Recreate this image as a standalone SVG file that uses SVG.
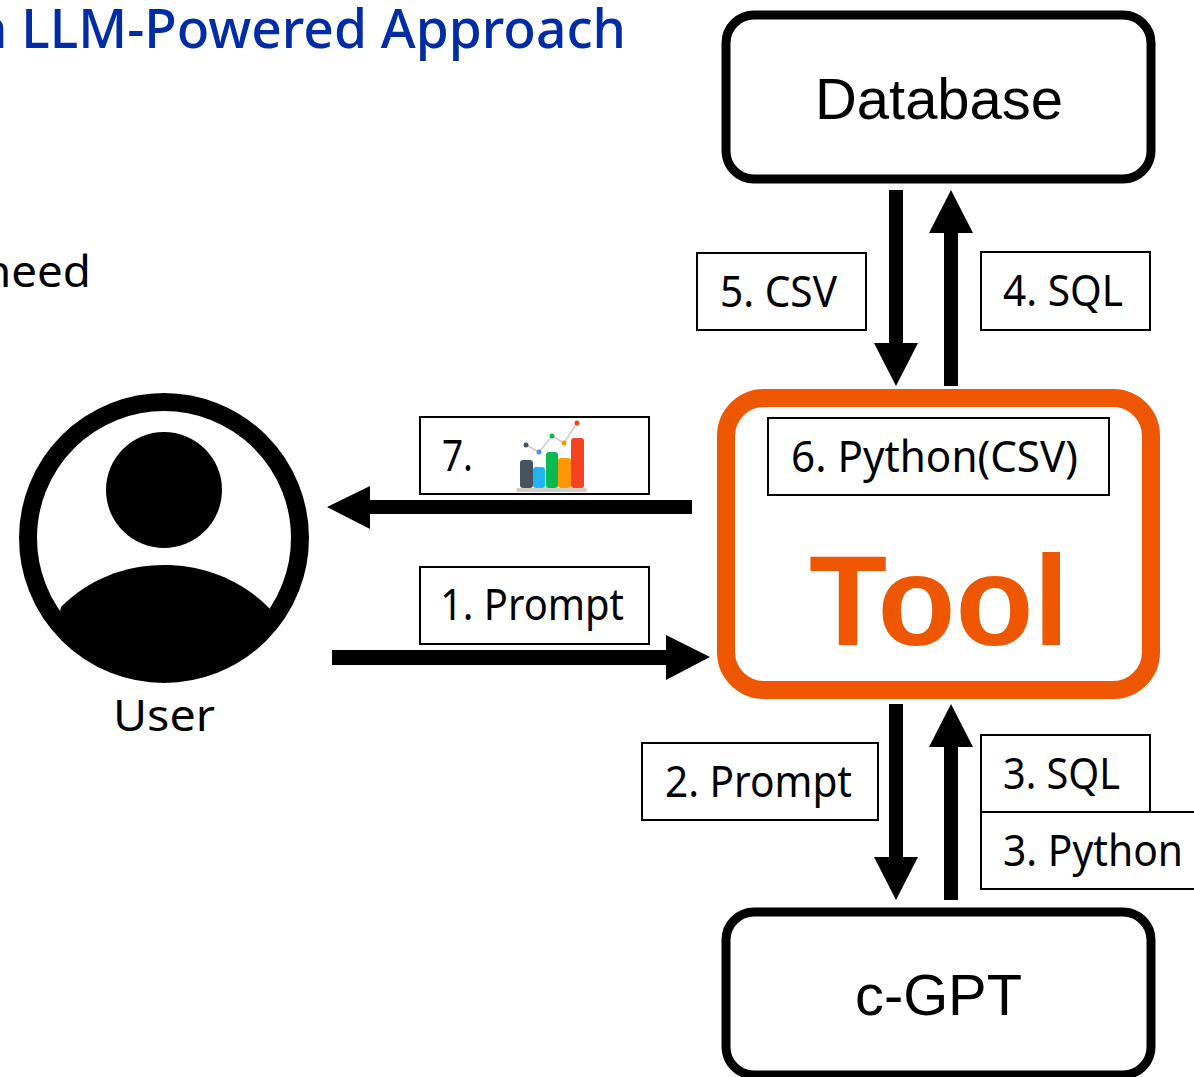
<svg xmlns="http://www.w3.org/2000/svg" width="1194" height="1077" viewBox="0 0 1194 1077">
<style>
.box{fill:#fff;stroke:#000;stroke-width:9}
.lb{fill:#fff;stroke:#000;stroke-width:2}
.t{font-family:"Noto Sans","Open Sans",sans-serif;font-size:43px;fill:#000}
.h{font-family:"Liberation Sans",Arial,sans-serif;fill:#000}
</style>
<defs><clipPath id="ringClip"><circle cx="164" cy="538" r="130"/></clipPath></defs>
<rect width="1194" height="1077" fill="#fff"/>
<text x="-26" y="48" font-family="Noto Sans,sans-serif" font-size="55" font-weight="500" fill="#002da6" textLength="652" lengthAdjust="spacingAndGlyphs">n LLM-Powered Approach</text>
<text x="-17" y="287" class="t" font-size="46" textLength="108" lengthAdjust="spacingAndGlyphs">need</text>
<g id="connectors" fill="#000">
<polygon points="889,190 903,190 903,343 918,343 896,386 874,343 889,343"/>
<polygon points="944,386 958,386 958,233 973,233 951,190 929,233 944,233"/>
<polygon points="692,500 692,514 370,514 370,529 327,507 370,486 370,500"/>
<polygon points="332,650 332,665 666,665 666,680 710,657 666,635 666,650"/>
<polygon points="889,704 903,704 903,857 918,857 896,900 874,857 889,857"/>
<polygon points="944,900 958,900 958,747 973,747 951,704 929,747 944,747"/>
</g>
<g id="database"><rect class="box" x="726" y="15" width="425" height="164" rx="28"/><text class="h" x="815" y="119" font-size="57" textLength="248" lengthAdjust="spacingAndGlyphs">Database</text></g>
<g id="cgpt"><rect class="box" x="726" y="912" width="425" height="163" rx="28"/><text class="h" x="855" y="1015" font-size="57" textLength="167" lengthAdjust="spacingAndGlyphs">c-GPT</text></g>
<g id="tool"><rect x="726" y="398" width="425" height="292" rx="38" fill="#fff" stroke="#ef5600" stroke-width="18"/><text x="809" y="645" font-family="Liberation Sans,sans-serif" font-weight="700" font-size="128" fill="#ef5600" textLength="260" lengthAdjust="spacingAndGlyphs">Tool</text></g>
<g id="user">
<circle cx="164" cy="538" r="136" fill="#fff" stroke="#000" stroke-width="18"/>
<circle cx="164" cy="490" r="58" fill="#000"/>
<path d="M61 607C88 580 124 565 164 565C204 565 242 580 270 609L290 700H40Z" fill="#000" clip-path="url(#ringClip)"/>
<text x="113" y="731" class="t" textLength="102" lengthAdjust="spacingAndGlyphs">User</text>
</g>
<g id="label5"><rect class="lb" x="697" y="253" width="169" height="77"/><text class="t" x="720" y="307" textLength="117" lengthAdjust="spacingAndGlyphs">5. CSV</text></g>
<g id="label4"><rect class="lb" x="981" y="252" width="169" height="78"/><text class="t" x="1003" y="306" textLength="120" lengthAdjust="spacingAndGlyphs">4. SQL</text></g>
<g id="label6"><rect class="lb" x="768" y="418" width="341" height="77"/><text class="t" x="791" y="472" textLength="287" lengthAdjust="spacingAndGlyphs">6. Python(CSV)</text></g>
<g id="label7"><rect class="lb" x="420" y="417" width="229" height="77"/><text class="t" x="442" y="471" textLength="31" lengthAdjust="spacingAndGlyphs">7.</text>
<g id="chart-icon">
<rect x="516" y="488" width="71" height="4" rx="2" fill="#d3cdc6"/>
<rect x="520" y="460" width="13" height="28" rx="3" fill="#47535e"/>
<rect x="533" y="467" width="12" height="21" rx="3" fill="#1fb5f5"/>
<rect x="546" y="452" width="12" height="36" rx="3" fill="#0cb850"/>
<rect x="558" y="458" width="13" height="30" rx="3" fill="#ff9800"/>
<rect x="571" y="438" width="13" height="50" rx="3" fill="#f4431f"/>
<path d="M526 445L539 452L552 436L564 443L577 423" fill="none" stroke="#d3cdc6" stroke-width="1.5"/>
<circle cx="526" cy="445" r="2.5" fill="#47535e"/><circle cx="539" cy="452" r="2.5" fill="#4a8ff0"/><circle cx="552" cy="436" r="2.5" fill="#0cb850"/><circle cx="564" cy="443" r="2.5" fill="#ff9800"/><circle cx="577" cy="423" r="2.5" fill="#f4431f"/>
</g></g>
<g id="label1"><rect class="lb" x="420" y="567" width="229" height="77"/><text class="t" x="440" y="620" textLength="184" lengthAdjust="spacingAndGlyphs">1. Prompt</text></g>
<g id="label2"><rect class="lb" x="642" y="743" width="236" height="77"/><text class="t" x="665" y="797" textLength="187" lengthAdjust="spacingAndGlyphs">2. Prompt</text></g>
<g id="label3a"><rect class="lb" x="981" y="735" width="169" height="77"/><text class="t" x="1003" y="789" textLength="117" lengthAdjust="spacingAndGlyphs">3. SQL</text></g>
<g id="label3b"><rect class="lb" x="981" y="812" width="220" height="77"/><text class="t" x="1003" y="866" textLength="180" lengthAdjust="spacingAndGlyphs">3. Python</text></g>
</svg>
